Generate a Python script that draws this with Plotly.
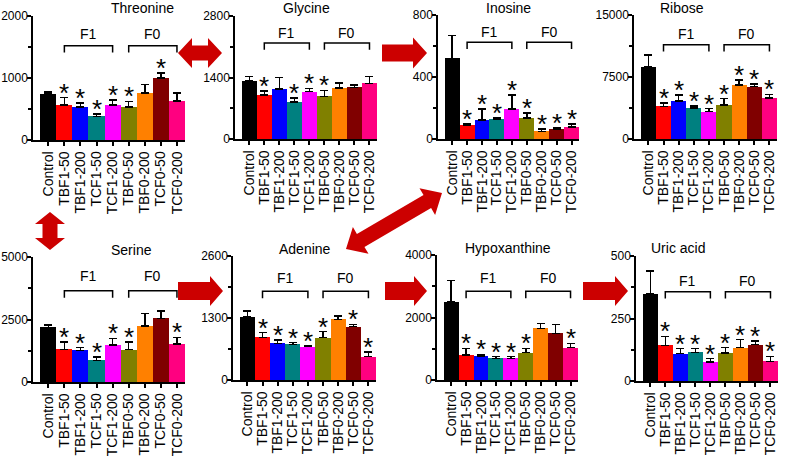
import plotly.graph_objects as go

# ── Data ────────────────────────────────────────────────────────────────────
GROUPS = ["Control", "TBF1-50", "TBF1-200", "TCF1-50", "TCF1-200",
          "TBF0-50", "TBF0-200", "TCF0-50", "TCF0-200"]
COLORS = ["#000000", "#ff0000", "#0000ff", "#008080", "#ff00ff",
          "#808000", "#ff8000", "#800000", "#ff0080"]

TITLES = ["Threonine", "Glycine", "Inosine", "Ribose",
          "Serine", "Adenine", "Hypoxanthine", "Uric acid"]
Y_MAX = [2000, 2800, 800, 15000, 5000, 2600, 4000, 500]

threonine = [750, 565, 530, 380, 562, 530, 760, 1000, 632]
threonine_err = [22, 120, 65, 38, 85, 92, 132, 80, 125]
threonine_sig = [0, 1, 1, 1, 1, 1, 0, 1, 0]

glycine = [1330, 1005, 1135, 840, 1080, 970, 1165, 1175, 1265]
glycine_err = [90, 90, 265, 90, 75, 135, 105, 60, 160]
glycine_sig = [0, 1, 0, 1, 1, 1, 0, 0, 0]

inosine = [520, 90, 124, 129, 195, 135, 49, 62, 77]
inosine_err = [147, 7, 69, 8, 90, 32, 15, 9, 20]
inosine_sig = [0, 1, 1, 1, 1, 1, 1, 1, 1]

ribose = [8770, 3940, 4620, 3740, 3300, 4100, 6550, 6350, 4950]
ribose_err = [1400, 400, 720, 280, 360, 770, 600, 320, 440]
ribose_sig = [0, 1, 1, 1, 1, 1, 1, 1, 1]

serine = [2190, 1310, 1270, 870, 1475, 1300, 2250, 2550, 1515]
serine_err = [100, 300, 110, 135, 270, 310, 500, 295, 270]
serine_sig = [0, 1, 1, 1, 1, 1, 0, 0, 1]

adenine = [1330, 895, 770, 748, 700, 888, 1270, 1118, 490]
adenine_err = [120, 97, 70, 35, 14, 125, 77, 49, 98]
adenine_sig = [0, 1, 1, 1, 1, 1, 0, 1, 1]

hypoxanthine = [2510, 800, 770, 690, 690, 875, 1650, 1490, 1035]
hypoxanthine_err = [670, 210, 53, 55, 55, 140, 160, 290, 140]
hypoxanthine_sig = [0, 1, 1, 1, 1, 1, 0, 0, 1]

uric_acid = [350, 143, 110, 115, 76, 112, 134, 146, 79]
uric_acid_err = [91, 36, 20, 15, 14, 22, 32, 14, 20]
uric_acid_sig = [0, 1, 1, 1, 1, 1, 1, 1, 1]

MEANS = [threonine, glycine, inosine, ribose, serine, adenine, hypoxanthine, uric_acid]
ERRS = [threonine_err, glycine_err, inosine_err, ribose_err,
        serine_err, adenine_err, hypoxanthine_err, uric_acid_err]
SIGS = [threonine_sig, glycine_sig, inosine_sig, ribose_sig,
        serine_sig, adenine_sig, hypoxanthine_sig, uric_acid_sig]

# ── Layout constants (pixels) ───────────────────────────────────────────────
W, H = 787, 460
FONT = "Liberation Sans, Arial, sans-serif"
ARROW_RED = "#cc0000"

# (x_left, x_right, y_top, y_zero) of each panel's axes, in page pixels
PANEL_PX = [
    (33, 185, 16, 140), (235, 377, 16, 139), (438, 579, 15, 139), (634, 777, 15, 139),
    (33, 185, 257, 382), (233, 376, 256, 380), (437, 578, 255, 380), (636, 778, 256, 381),
]
TITLE_Y_PX = [8, 8, 8, 8, 250, 249, 248, 248]
BRACKET_TOP = [0.76, 0.78, 0.78, 0.76, 0.73, 0.715, 0.71, 0.715]
LABEL_Y = [0.855, 0.86, 0.86, 0.85, 0.845, 0.82, 0.815, 0.80]
X_RANGE = [-0.95, 8.5]


def px(x, y):
    return x / W, 1 - y / H


def arrow_path(x0, y0, x1, y1, shaft, head_w, head_len, double):
    L = ((x1 - x0) ** 2 + (y1 - y0) ** 2) ** 0.5
    ux, uy = (x1 - x0) / L, (y1 - y0) / L
    nx, ny = -uy, ux

    def pt(bx, by, along, side):
        return bx + ux * along + nx * side, by + uy * along + ny * side

    pts = []
    # tip end (x1, y1)
    pts.append(pt(x1, y1, -head_len, shaft / 2))
    pts.append(pt(x1, y1, -head_len, head_w / 2))
    pts.append((x1, y1))
    pts.append(pt(x1, y1, -head_len, -head_w / 2))
    pts.append(pt(x1, y1, -head_len, -shaft / 2))
    if double:
        pts.append(pt(x0, y0, head_len, -shaft / 2))
        pts.append(pt(x0, y0, head_len, -head_w / 2))
        pts.append((x0, y0))
        pts.append(pt(x0, y0, head_len, head_w / 2))
        pts.append(pt(x0, y0, head_len, shaft / 2))
    else:
        pts.append(pt(x0, y0, 0, -shaft / 2))
        pts.append(pt(x0, y0, 0, shaft / 2))
    path = ""
    for i, (x, y) in enumerate(pts):
        fx, fy = px(x, y)
        path += ("M" if i == 0 else "L") + f"{fx:.5f},{fy:.5f} "
    return path + "Z"


ARROWS = [
    (178, 53, 222, 53, 15, 30, 14, True),
    (382, 53, 427, 53, 17, 31, 14, False),
    (50, 212, 50, 250, 15, 30, 12, True),
    (346, 249, 442, 193, 15, 31, 17, True),
    (178, 291, 223, 291, 18, 30, 13, False),
    (385, 291, 427, 291, 18, 30, 13, False),
    (583, 291, 628, 291, 18, 30, 13, False),
]

fig = go.Figure()
layout = dict(
    width=W, height=H,
    margin=dict(l=0, r=0, t=0, b=0, pad=0, autoexpand=False),
    paper_bgcolor="white", plot_bgcolor="white",
    showlegend=False, bargap=0,
    font=dict(family=FONT, size=14, color="black"),
)
annotations = []
shapes = []

for i in range(8):
    n = i + 1
    xa, ya = f"x{n}", f"y{n}"
    xl, xr, yt, yz = PANEL_PX[i]
    ymax = Y_MAX[i]

    fig.add_trace(go.Bar(
        x=list(range(9)), y=MEANS[i],
        marker=dict(color=COLORS, line=dict(width=0)),
        width=1,
        error_y=dict(type="data", symmetric=False, array=ERRS[i],
                     arrayminus=[0] * 9, color="black", thickness=1.5, width=4),
        xaxis=xa, yaxis=ya,
    ))

    layout[f"xaxis{n}"] = dict(
        domain=[xl / W, xr / W], anchor=ya, range=X_RANGE, automargin=False,
        showline=True, linecolor="black", linewidth=1.5,
        ticks="outside", ticklen=4, tickwidth=1.5, tickcolor="black",
        tickmode="array", tickvals=list(range(9)), ticktext=GROUPS,
        tickangle=-90, tickfont=dict(size=14), showgrid=False, zeroline=False,
    )
    layout[f"yaxis{n}"] = dict(
        domain=[1 - yz / H, 1 - yt / H], anchor=xa, range=[0, ymax], automargin=False,
        showline=True, linecolor="black", linewidth=1.5,
        ticks="outside", ticklen=4, tickwidth=1.5, tickcolor="black",
        tickmode="array", tickvals=[0, ymax / 2, ymax], tickformat="d",
        tickfont=dict(size=12), ticklabelstandoff=-3,
        showgrid=False, zeroline=False,
        minor=dict(ticks="outside", ticklen=3, tickwidth=1.5, tickcolor="black",
                   tickmode="linear", tick0=0, dtick=ymax / 4),
    )

    # panel title
    tx, ty = px((xl + xr) / 2, TITLE_Y_PX[i])
    annotations.append(dict(x=tx, y=ty, xref="paper", yref="paper", text=TITLES[i],
                            showarrow=False, font=dict(size=14), yanchor="middle"))

    # F1 / F0 brackets
    top = BRACKET_TOP[i] * ymax
    bot = (BRACKET_TOP[i] - 0.055) * ymax
    for a, b, lab in [(1, 4, "F1"), (5, 8, "F0")]:
        shapes.append(dict(type="path", xref=xa, yref=ya,
                           path=f"M{a},{bot} L{a},{top} L{b},{top} L{b},{bot}",
                           line=dict(color="black", width=1.5)))
        annotations.append(dict(x=(a + b) / 2, y=LABEL_Y[i] * ymax, xref=xa, yref=ya,
                                text=lab, showarrow=False, font=dict(size=14),
                                yanchor="middle"))

    # significance asterisks
    for j in range(9):
        if SIGS[i][j]:
            annotations.append(dict(x=j, y=MEANS[i][j] + ERRS[i][j], xref=xa, yref=ya,
                                    text="*", showarrow=False, yanchor="bottom",
                                    yshift=-12, font=dict(size=26)))

for a in ARROWS:
    shapes.append(dict(type="path", xref="paper", yref="paper", path=arrow_path(*a),
                       fillcolor=ARROW_RED, line=dict(width=0)))

layout["annotations"] = annotations
layout["shapes"] = shapes
fig.update_layout(**layout)

# page body has an 8px default margin; drop it so the figure sits at 0,0
fig.write_html("out.html", config={"displayModeBar": False},
               post_script="document.body.style.margin='0';document.body.style.overflow='hidden';")
